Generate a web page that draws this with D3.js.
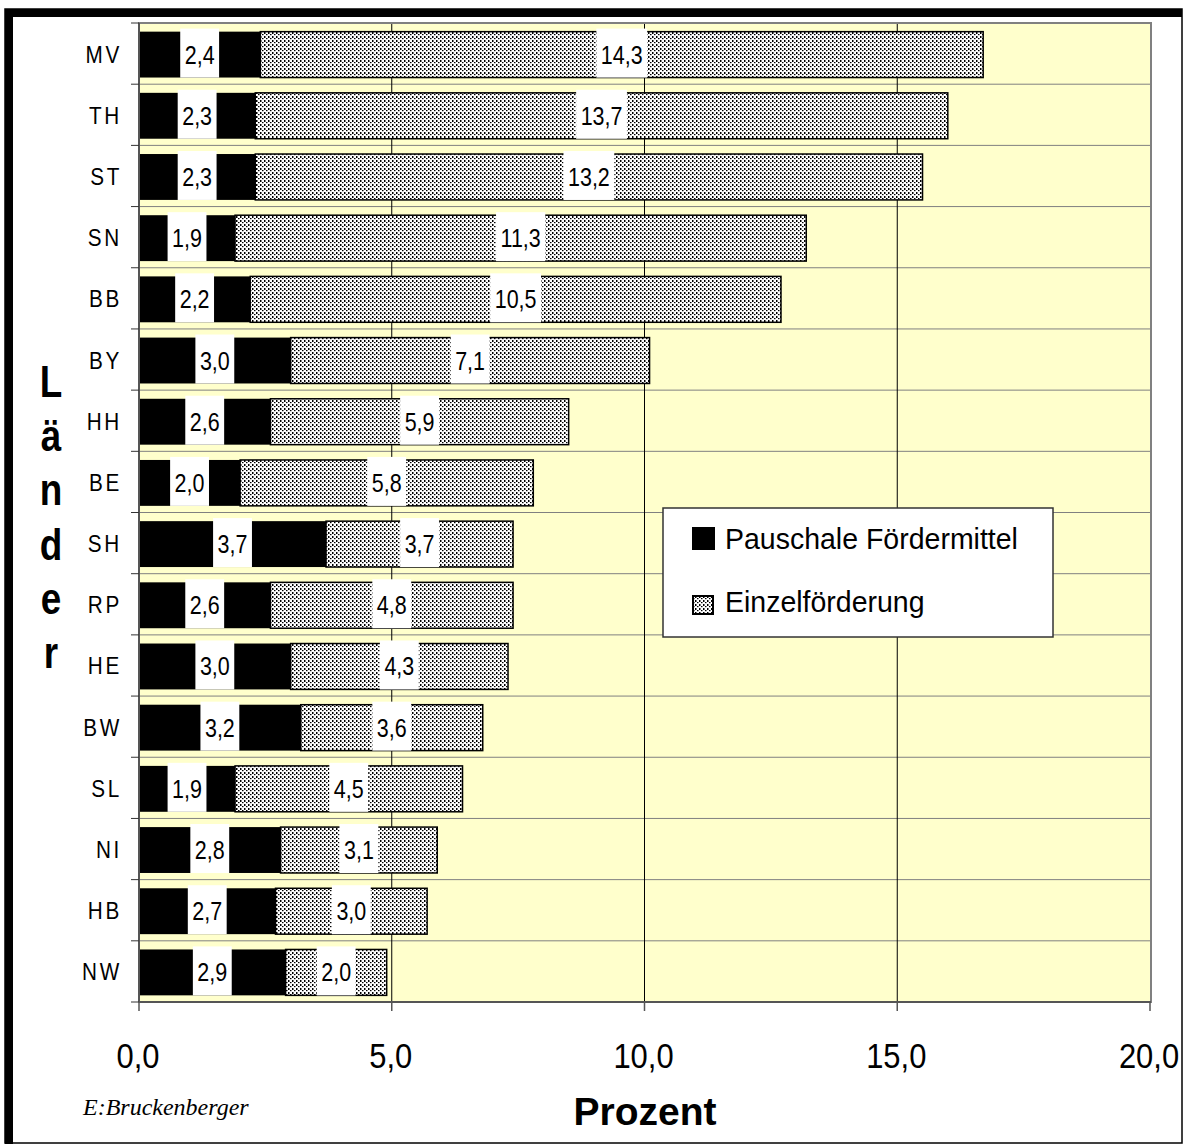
<!DOCTYPE html>
<html>
<head>
<meta charset="utf-8">
<script src="https://cdn.jsdelivr.net/npm/d3@7"></script>
<style>
  html, body { margin: 0; padding: 0; background: #fff; }
  svg { display: block; }
  text { font-family: "Liberation Sans", Arial, Helvetica, sans-serif; fill: #000; }
</style>
</head>
<body>
<svg id="chart" width="1184" height="1144"></svg>
<script>
// Länder, top to bottom
const laender = ["MV", "TH", "ST", "SN", "BB", "BY", "HH", "BE", "SH", "RP", "HE", "BW", "SL", "NI", "HB", "NW"];
// Pauschale Fördermittel (%)
const pauschale = [2.4, 2.3, 2.3, 1.9, 2.2, 3.0, 2.6, 2.0, 3.7, 2.6, 3.0, 3.2, 1.9, 2.8, 2.7, 2.9];
// Einzelförderung (%)
const einzel = [14.3, 13.7, 13.2, 11.3, 10.5, 7.1, 5.9, 5.8, 3.7, 4.8, 4.3, 3.6, 4.5, 3.1, 3.0, 2.0];
const xTicks = [0, 5, 10, 15, 20];
const seriesNames = ["Pauschale Fördermittel", "Einzelförderung"];

const fmt = v => v.toFixed(1).replace(".", ",");
const svg = d3.select("#chart");

// dotted fill for the Einzelförderung bars
const defs = svg.append("defs");
const pat = defs.append("pattern").attr("id", "dots")
  .attr("patternUnits", "userSpaceOnUse").attr("width", 4).attr("height", 4);
pat.append("rect").attr("width", 4).attr("height", 4).attr("fill", "#fff");
pat.append("rect").attr("x", 0).attr("y", 0).attr("width", 1.5).attr("height", 2).attr("fill", "#000");
pat.append("rect").attr("x", 2).attr("y", 2).attr("width", 1.5).attr("height", 1.2).attr("fill", "#000");

// outer frame
svg.append("rect").attr("x", 5).attr("y", 9).attr("width", 1177).attr("height", 1134)
  .attr("fill", "#fff").attr("stroke", "#000").attr("stroke-width", 1.5);
svg.append("rect").attr("x", 5).attr("y", 9).attr("width", 1177).attr("height", 8).attr("fill", "#000");
svg.append("rect").attr("x", 5).attr("y", 9).attr("width", 8).attr("height", 1135).attr("fill", "#000");

const plot = { left: 139, right: 1151, top: 23, bottom: 1002 };
const x = d3.scaleLinear().domain([0, 20]).range([plot.left, plot.right - 1]);
const y = d3.scaleBand().domain(laender).range([plot.top, plot.bottom])
  .paddingInner(0.25).paddingOuter(0.125);
const step = y.step();

// plot area
svg.append("rect").attr("x", plot.left).attr("y", plot.top)
  .attr("width", plot.right - plot.left).attr("height", plot.bottom - plot.top)
  .attr("fill", "#FFFFCC");

// horizontal grid lines at category boundaries
const bounds = d3.range(1, laender.length).map(i => plot.top + i * step);
svg.append("g").selectAll("line").data(bounds).join("line")
  .attr("x1", plot.left).attr("x2", plot.right).attr("y1", d => d).attr("y2", d => d)
  .attr("stroke", "#808080").attr("stroke-width", 1);

// vertical grid lines
svg.append("g").selectAll("line").data(xTicks.slice(1, -1)).join("line")
  .attr("x1", d => x(d)).attr("x2", d => x(d)).attr("y1", plot.top).attr("y2", plot.bottom)
  .attr("stroke", "#000").attr("stroke-width", 1);

// plot border
svg.append("rect").attr("x", plot.left).attr("y", plot.top)
  .attr("width", plot.right - plot.left).attr("height", plot.bottom - plot.top)
  .attr("fill", "none").attr("stroke", "#808080").attr("stroke-width", 2);

// stacked bars
const rows = laender.map((k, i) => ({ k, p: pauschale[i], e: einzel[i] }));
const bars = svg.append("g");
bars.selectAll("rect.p").data(rows).join("rect").attr("class", "p")
  .attr("x", x(0)).attr("y", d => y(d.k) + 1)
  .attr("width", d => x(d.p) - x(0)).attr("height", y.bandwidth())
  .attr("fill", "#000");
bars.selectAll("rect.e").data(rows).join("rect").attr("class", "e")
  .attr("x", d => x(d.p)).attr("y", d => y(d.k) + 1)
  .attr("width", d => x(d.p + d.e) - x(d.p)).attr("height", y.bandwidth())
  .attr("fill", "url(#dots)").attr("stroke", "#000").attr("stroke-width", 1.5);

// value labels in white boxes
const sx = 0.86;
const labels = [];
rows.forEach(d => {
  const cy = y(d.k) + 1 + y.bandwidth() / 2;
  labels.push({ v: d.p, cx: (x(0) + x(d.p)) / 2, cy });
  labels.push({ v: d.e, cx: (x(d.p) + x(d.p + d.e)) / 2, cy });
});
const lg = svg.append("g").selectAll("g").data(labels).join("g")
  .attr("transform", d => `translate(${d.cx},${d.cy})`);
lg.append("rect").attr("class", "box");
lg.append("text").text(d => fmt(d.v))
  .attr("text-anchor", "middle").attr("dy", "0.36em")
  .attr("transform", `scale(${sx},1)`)
  .style("font-size", "25px");
lg.each(function () {
  const g = d3.select(this);
  const w = g.select("text").node().getComputedTextLength() * sx + 9;
  g.select("rect.box").attr("x", -w / 2).attr("y", -26).attr("width", w).attr("height", 49)
    .attr("fill", "#fff");
});

// left axis line and ticks
svg.append("line").attr("x1", plot.left).attr("x2", plot.left)
  .attr("y1", plot.top).attr("y2", plot.bottom).attr("stroke", "#555").attr("stroke-width", 2);
svg.append("g").selectAll("line").data([plot.top, ...bounds, plot.bottom]).join("line")
  .attr("x1", plot.left - 8).attr("x2", plot.left).attr("y1", d => d).attr("y2", d => d)
  .attr("stroke", "#333").attr("stroke-width", 1);

// category labels
svg.append("g").selectAll("text").data(laender).join("text")
  .attr("transform", d => `translate(122,${y(d) + y.bandwidth() / 2 + 9}) scale(0.9,1)`)
  .attr("text-anchor", "end")
  .style("font-size", "23px").style("letter-spacing", "3px")
  .text(d => d);

// bottom axis line, ticks and labels
svg.append("line").attr("x1", plot.left).attr("x2", plot.right)
  .attr("y1", plot.bottom).attr("y2", plot.bottom).attr("stroke", "#555").attr("stroke-width", 2);
svg.append("g").selectAll("line").data(xTicks).join("line")
  .attr("x1", d => x(d)).attr("x2", d => x(d)).attr("y1", plot.bottom).attr("y2", plot.bottom + 9)
  .attr("stroke", "#555").attr("stroke-width", 1.5);
svg.append("g").selectAll("text").data(xTicks).join("text")
  .attr("transform", d => `translate(${x(d) - 1},1068) scale(0.86,1)`)
  .attr("text-anchor", "middle").style("font-size", "36px")
  .text(d => fmt(d));

// axis titles
svg.append("text").attr("x", 645).attr("y", 1125).attr("text-anchor", "middle")
  .style("font-size", "39px").style("font-weight", "bold").text("Prozent");
const titleY = Array.from("Länder");
svg.append("g").selectAll("text").data(titleY).join("text")
  .attr("transform", (d, i) => `translate(51,${397 + i * 54.2}) scale(0.82,1)`)
  .attr("text-anchor", "middle").style("font-size", "45px").style("font-weight", "bold")
  .text(d => d);

// source note
svg.append("text").attr("x", 83).attr("y", 1115)
  .style("font-family", "'Liberation Serif', 'Times New Roman', serif")
  .style("font-style", "italic").style("font-size", "24px")
  .text("E:Bruckenberger");

// legend
const leg = svg.append("g").attr("transform", "translate(663,508)");
leg.append("rect").attr("width", 390).attr("height", 129)
  .attr("fill", "#fff").attr("stroke", "#333").attr("stroke-width", 1.5);
leg.append("rect").attr("x", 29).attr("y", 19).attr("width", 23).attr("height", 23).attr("fill", "#000");
leg.append("rect").attr("x", 30).attr("y", 88).attr("width", 20).attr("height", 18)
  .attr("fill", "url(#dots)").attr("stroke", "#000").attr("stroke-width", 2);
leg.selectAll("text").data(seriesNames).join("text")
  .attr("x", 62).attr("y", (d, i) => i === 0 ? 41 : 104)
  .attr("transform", "translate(62,0) scale(0.95,1) translate(-62,0)")
  .style("font-size", "30px").text(d => d);
</script>
</body>
</html>
